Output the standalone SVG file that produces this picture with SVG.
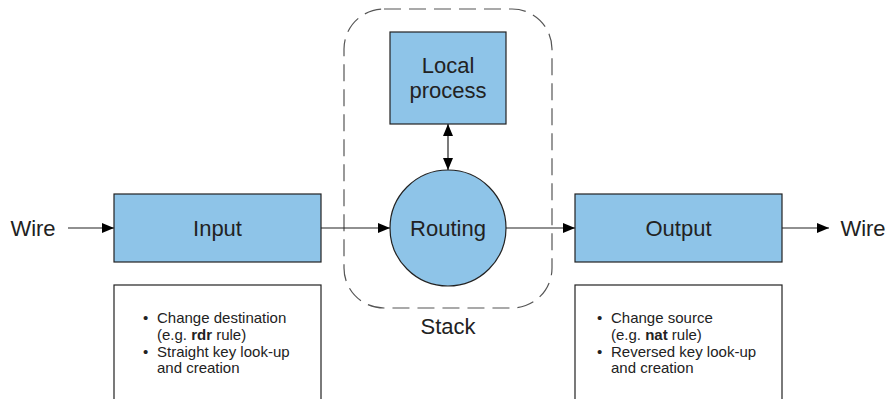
<svg xmlns="http://www.w3.org/2000/svg" width="888" height="399" viewBox="0 0 888 399">
<defs>
<marker id="ah" viewBox="0 0 12 10" refX="12" refY="5" markerWidth="12" markerHeight="10" markerUnits="userSpaceOnUse" orient="auto-start-reverse">
<path d="M0,0 L12,5 L0,10 Z" fill="#000"/>
</marker>
<style>
.n{fill:#8ec4e8;stroke:#222;stroke-width:1.2}
.t{font-family:"Liberation Sans",Arial,sans-serif;fill:#222}
.lbl{font-size:22px;text-anchor:middle}
.note{fill:#fff;stroke:#222;stroke-width:1.2}
.bl{font-size:15px}
.c{stroke:#222;stroke-width:1.2;fill:none}
</style>
</defs>
<rect width="888" height="399" fill="#fff"/>
<g id="stack">
<rect x="344" y="9" width="208" height="299" rx="40" ry="40" fill="none" stroke="#555" stroke-width="1.2" stroke-dasharray="17,8"/>
<text class="t lbl" x="448" y="334">Stack</text>
</g>
<g id="connectors">
<line class="c" x1="68" y1="228" x2="114" y2="228" marker-end="url(#ah)"/>
<line class="c" x1="321" y1="228" x2="390" y2="228" marker-end="url(#ah)"/>
<line class="c" x1="506" y1="228" x2="575" y2="228" marker-end="url(#ah)"/>
<line class="c" x1="782" y1="228" x2="829" y2="228" marker-end="url(#ah)"/>
<line class="c" x1="448" y1="124" x2="448" y2="170" marker-start="url(#ah)" marker-end="url(#ah)"/>
</g>
<g id="wire-in"><text class="t lbl" x="33" y="236">Wire</text></g>
<g id="wire-out"><text class="t lbl" x="863" y="236">Wire</text></g>
<g id="input">
<rect class="n" x="114" y="194" width="207" height="68"/>
<text class="t lbl" x="217.5" y="236">Input</text>
</g>
<g id="routing">
<circle class="n" cx="448" cy="228" r="58"/>
<text class="t lbl" x="448" y="236">Routing</text>
</g>
<g id="output">
<rect class="n" x="575" y="194" width="207" height="68"/>
<text class="t lbl" x="678.5" y="236">Output</text>
</g>
<g id="local">
<rect class="n" x="390" y="32" width="116" height="92"/>
<text class="t lbl" x="448" y="73">Local</text>
<text class="t lbl" x="448" y="98">process</text>
</g>
<g id="input-note">
<rect class="note" x="114" y="285" width="207" height="120"/>
<text class="t bl" x="143" y="323">•</text>
<text class="t bl" x="157" y="323">Change destination</text>
<text class="t bl" x="157" y="340">(e.g. <tspan font-weight="bold">rdr</tspan> rule)</text>
<text class="t bl" x="143" y="357">•</text>
<text class="t bl" x="157" y="357">Straight key look-up</text>
<text class="t bl" x="157" y="373">and creation</text>
</g>
<g id="output-note">
<rect class="note" x="575" y="285" width="207" height="120"/>
<text class="t bl" x="597" y="323">•</text>
<text class="t bl" x="611" y="323">Change source</text>
<text class="t bl" x="611" y="340">(e.g. <tspan font-weight="bold">nat</tspan> rule)</text>
<text class="t bl" x="597" y="357">•</text>
<text class="t bl" x="611" y="357">Reversed key look-up</text>
<text class="t bl" x="611" y="373">and creation</text>
</g>
</svg>
